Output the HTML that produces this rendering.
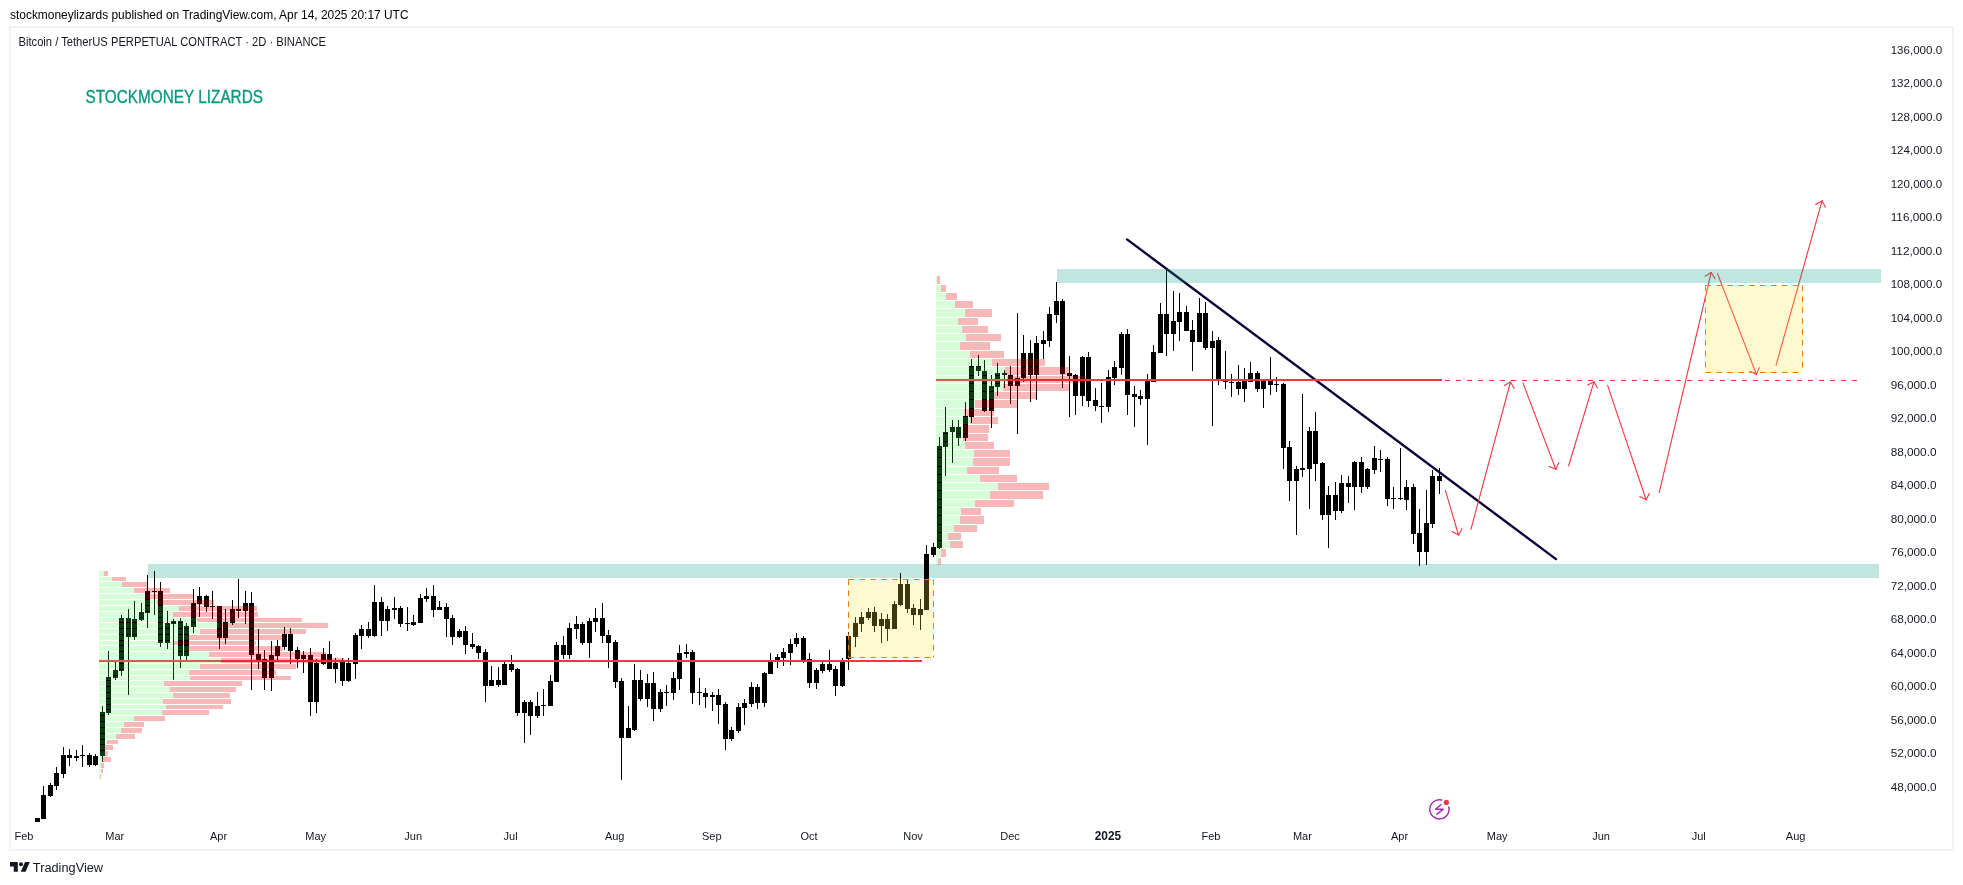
<!DOCTYPE html><html><head><meta charset="utf-8"><style>
html,body{margin:0;padding:0;background:#fff;width:1963px;height:885px;overflow:hidden}
svg{display:block;font-family:"Liberation Sans",sans-serif;will-change:transform}
</style></head><body>
<svg width="1963" height="885" viewBox="0 0 1963 885">
<rect width="1963" height="885" fill="#ffffff"/>
<text x="10" y="19" font-size="13" fill="#000" textLength="398.5" lengthAdjust="spacingAndGlyphs">stockmoneylizards published on TradingView.com, Apr 14, 2025 20:17 UTC</text>
<g fill="#f3f3f3" shape-rendering="crispEdges"><rect x="9" y="26" width="1945" height="2"/><rect x="9" y="849" width="1945" height="2"/><rect x="9" y="26" width="2" height="825"/><rect x="1952" y="26" width="2" height="825"/></g>
<text x="18.5" y="46" font-size="12" fill="#131722" textLength="307.5" lengthAdjust="spacingAndGlyphs">Bitcoin / TetherUS PERPETUAL CONTRACT · 2D · BINANCE</text>
<text x="85.5" y="103" font-size="18" fill="#089981" stroke="#089981" stroke-width="0.35" textLength="177.5" lengthAdjust="spacingAndGlyphs">STOCKMONEY LIZARDS</text>
<text x="1890.7" y="53.7" font-size="11" fill="#131722" textLength="51.4" lengthAdjust="spacingAndGlyphs">136,000.0</text>
<text x="1890.7" y="87.2" font-size="11" fill="#131722" textLength="51.4" lengthAdjust="spacingAndGlyphs">132,000.0</text>
<text x="1890.7" y="120.7" font-size="11" fill="#131722" textLength="51.4" lengthAdjust="spacingAndGlyphs">128,000.0</text>
<text x="1890.7" y="154.2" font-size="11" fill="#131722" textLength="51.4" lengthAdjust="spacingAndGlyphs">124,000.0</text>
<text x="1890.7" y="187.7" font-size="11" fill="#131722" textLength="51.4" lengthAdjust="spacingAndGlyphs">120,000.0</text>
<text x="1890.7" y="221.2" font-size="11" fill="#131722" textLength="51.4" lengthAdjust="spacingAndGlyphs">116,000.0</text>
<text x="1890.7" y="254.7" font-size="11" fill="#131722" textLength="51.4" lengthAdjust="spacingAndGlyphs">112,000.0</text>
<text x="1890.7" y="288.2" font-size="11" fill="#131722" textLength="51.4" lengthAdjust="spacingAndGlyphs">108,000.0</text>
<text x="1890.7" y="321.7" font-size="11" fill="#131722" textLength="51.4" lengthAdjust="spacingAndGlyphs">104,000.0</text>
<text x="1890.7" y="355.2" font-size="11" fill="#131722" textLength="51.4" lengthAdjust="spacingAndGlyphs">100,000.0</text>
<text x="1890.7" y="388.7" font-size="11" fill="#131722" textLength="45.8" lengthAdjust="spacingAndGlyphs">96,000.0</text>
<text x="1890.7" y="422.1" font-size="11" fill="#131722" textLength="45.8" lengthAdjust="spacingAndGlyphs">92,000.0</text>
<text x="1890.7" y="455.6" font-size="11" fill="#131722" textLength="45.8" lengthAdjust="spacingAndGlyphs">88,000.0</text>
<text x="1890.7" y="489.1" font-size="11" fill="#131722" textLength="45.8" lengthAdjust="spacingAndGlyphs">84,000.0</text>
<text x="1890.7" y="522.6" font-size="11" fill="#131722" textLength="45.8" lengthAdjust="spacingAndGlyphs">80,000.0</text>
<text x="1890.7" y="556.1" font-size="11" fill="#131722" textLength="45.8" lengthAdjust="spacingAndGlyphs">76,000.0</text>
<text x="1890.7" y="589.6" font-size="11" fill="#131722" textLength="45.8" lengthAdjust="spacingAndGlyphs">72,000.0</text>
<text x="1890.7" y="623.1" font-size="11" fill="#131722" textLength="45.8" lengthAdjust="spacingAndGlyphs">68,000.0</text>
<text x="1890.7" y="656.6" font-size="11" fill="#131722" textLength="45.8" lengthAdjust="spacingAndGlyphs">64,000.0</text>
<text x="1890.7" y="690.1" font-size="11" fill="#131722" textLength="45.8" lengthAdjust="spacingAndGlyphs">60,000.0</text>
<text x="1890.7" y="723.6" font-size="11" fill="#131722" textLength="45.8" lengthAdjust="spacingAndGlyphs">56,000.0</text>
<text x="1890.7" y="757.1" font-size="11" fill="#131722" textLength="45.8" lengthAdjust="spacingAndGlyphs">52,000.0</text>
<text x="1890.7" y="790.6" font-size="11" fill="#131722" textLength="45.8" lengthAdjust="spacingAndGlyphs">48,000.0</text>
<text x="23.9" y="840" font-size="11" fill="#131722" text-anchor="middle">Feb</text>
<text x="114.7" y="840" font-size="11" fill="#131722" text-anchor="middle">Mar</text>
<text x="218.6" y="840" font-size="11" fill="#131722" text-anchor="middle">Apr</text>
<text x="315.7" y="840" font-size="11" fill="#131722" text-anchor="middle">May</text>
<text x="413.2" y="840" font-size="11" fill="#131722" text-anchor="middle">Jun</text>
<text x="510.6" y="840" font-size="11" fill="#131722" text-anchor="middle">Jul</text>
<text x="614.7" y="840" font-size="11" fill="#131722" text-anchor="middle">Aug</text>
<text x="711.8" y="840" font-size="11" fill="#131722" text-anchor="middle">Sep</text>
<text x="809.0" y="840" font-size="11" fill="#131722" text-anchor="middle">Oct</text>
<text x="913.0" y="840" font-size="11" fill="#131722" text-anchor="middle">Nov</text>
<text x="1010.0" y="840" font-size="11" fill="#131722" text-anchor="middle">Dec</text>
<text x="1094.8" y="840" font-size="12" font-weight="bold" fill="#131722" textLength="26.3" lengthAdjust="spacingAndGlyphs">2025</text>
<text x="1211.0" y="840" font-size="11" fill="#131722" text-anchor="middle">Feb</text>
<text x="1302.4" y="840" font-size="11" fill="#131722" text-anchor="middle">Mar</text>
<text x="1399.5" y="840" font-size="11" fill="#131722" text-anchor="middle">Apr</text>
<text x="1497.2" y="840" font-size="11" fill="#131722" text-anchor="middle">May</text>
<text x="1601.0" y="840" font-size="11" fill="#131722" text-anchor="middle">Jun</text>
<text x="1698.7" y="840" font-size="11" fill="#131722" text-anchor="middle">Jul</text>
<text x="1795.6" y="840" font-size="11" fill="#131722" text-anchor="middle">Aug</text>
<g fill="#131722">
<path d="M10 862 H17.8 V871.8 H13.8 V866.4 H10 Z"/>
<circle cx="21" cy="864.2" r="2"/>
<path d="M25 862 H29.8 L25.6 871.8 H20.8 Z"/>
</g>
<text x="32.8" y="872" font-size="12.5" fill="#131722" textLength="70.3" lengthAdjust="spacingAndGlyphs">TradingView</text>
<defs><clipPath id="cp"><rect x="11" y="28" width="1940" height="794"/></clipPath></defs>
<g clip-path="url(#cp)">
<rect x="148" y="564" width="1731" height="14" fill="#c1e5df"/>
<g fill="#000" shape-rendering="crispEdges">
<rect x="35" y="818" width="5" height="4"/>
<rect x="37" y="818" width="1" height="4"/>
<rect x="41" y="795" width="5" height="24"/>
<rect x="43" y="786" width="1" height="33"/>
<rect x="48" y="785" width="5" height="11"/>
<rect x="50" y="783" width="1" height="14"/>
<rect x="54" y="773" width="5" height="13"/>
<rect x="56" y="767" width="1" height="23"/>
<rect x="61" y="755" width="5" height="19"/>
<rect x="63" y="747" width="1" height="31"/>
<rect x="67" y="755" width="5" height="3"/>
<rect x="69" y="749" width="1" height="17"/>
<rect x="74" y="756" width="5" height="2"/>
<rect x="76" y="750" width="1" height="11"/>
<rect x="80" y="755" width="5" height="1"/>
<rect x="82" y="745" width="1" height="22"/>
<rect x="87" y="755" width="5" height="10"/>
<rect x="89" y="753" width="1" height="14"/>
<rect x="93" y="756" width="5" height="9"/>
<rect x="95" y="754" width="1" height="12"/>
<rect x="100" y="712" width="5" height="44"/>
<rect x="102" y="706" width="1" height="56"/>
<rect x="106" y="677" width="5" height="36"/>
<rect x="108" y="651" width="1" height="64"/>
<rect x="113" y="670" width="5" height="8"/>
<rect x="115" y="662" width="1" height="18"/>
<rect x="119" y="618" width="5" height="53"/>
<rect x="121" y="615" width="1" height="61"/>
<rect x="126" y="618" width="5" height="19"/>
<rect x="128" y="609" width="1" height="86"/>
<rect x="132" y="619" width="5" height="18"/>
<rect x="134" y="601" width="1" height="39"/>
<rect x="139" y="612" width="5" height="8"/>
<rect x="141" y="603" width="1" height="18"/>
<rect x="145" y="591" width="5" height="22"/>
<rect x="147" y="575" width="1" height="53"/>
<rect x="152" y="591" width="5" height="1"/>
<rect x="154" y="571" width="1" height="44"/>
<rect x="158" y="591" width="5" height="52"/>
<rect x="160" y="582" width="1" height="65"/>
<rect x="165" y="623" width="5" height="20"/>
<rect x="167" y="611" width="1" height="38"/>
<rect x="171" y="621" width="5" height="3"/>
<rect x="173" y="619" width="1" height="61"/>
<rect x="178" y="621" width="5" height="35"/>
<rect x="180" y="618" width="1" height="50"/>
<rect x="184" y="626" width="5" height="30"/>
<rect x="186" y="623" width="1" height="37"/>
<rect x="191" y="603" width="5" height="24"/>
<rect x="193" y="589" width="1" height="44"/>
<rect x="197" y="596" width="5" height="8"/>
<rect x="199" y="587" width="1" height="30"/>
<rect x="204" y="596" width="5" height="11"/>
<rect x="206" y="595" width="1" height="17"/>
<rect x="210" y="606" width="5" height="1"/>
<rect x="212" y="591" width="1" height="28"/>
<rect x="217" y="606" width="5" height="32"/>
<rect x="219" y="606" width="1" height="43"/>
<rect x="223" y="622" width="5" height="16"/>
<rect x="225" y="609" width="1" height="35"/>
<rect x="230" y="609" width="5" height="14"/>
<rect x="232" y="600" width="1" height="25"/>
<rect x="236" y="609" width="5" height="2"/>
<rect x="238" y="579" width="1" height="39"/>
<rect x="243" y="603" width="5" height="8"/>
<rect x="245" y="591" width="1" height="33"/>
<rect x="249" y="603" width="5" height="52"/>
<rect x="251" y="592" width="1" height="98"/>
<rect x="256" y="654" width="5" height="6"/>
<rect x="258" y="629" width="1" height="40"/>
<rect x="262" y="659" width="5" height="19"/>
<rect x="264" y="650" width="1" height="40"/>
<rect x="269" y="655" width="5" height="23"/>
<rect x="271" y="641" width="1" height="50"/>
<rect x="275" y="646" width="5" height="10"/>
<rect x="277" y="640" width="1" height="20"/>
<rect x="282" y="634" width="5" height="13"/>
<rect x="284" y="627" width="1" height="23"/>
<rect x="288" y="634" width="5" height="17"/>
<rect x="290" y="628" width="1" height="36"/>
<rect x="295" y="650" width="5" height="9"/>
<rect x="297" y="647" width="1" height="21"/>
<rect x="301" y="655" width="5" height="4"/>
<rect x="303" y="651" width="1" height="22"/>
<rect x="308" y="655" width="5" height="47"/>
<rect x="310" y="648" width="1" height="68"/>
<rect x="314" y="663" width="5" height="39"/>
<rect x="316" y="659" width="1" height="54"/>
<rect x="321" y="654" width="5" height="10"/>
<rect x="323" y="648" width="1" height="17"/>
<rect x="327" y="654" width="5" height="15"/>
<rect x="329" y="641" width="1" height="28"/>
<rect x="333" y="663" width="5" height="6"/>
<rect x="335" y="658" width="1" height="25"/>
<rect x="340" y="661" width="5" height="20"/>
<rect x="342" y="658" width="1" height="28"/>
<rect x="346" y="663" width="5" height="18"/>
<rect x="348" y="658" width="1" height="24"/>
<rect x="353" y="635" width="5" height="29"/>
<rect x="355" y="633" width="1" height="46"/>
<rect x="359" y="629" width="5" height="7"/>
<rect x="361" y="625" width="1" height="24"/>
<rect x="366" y="629" width="5" height="7"/>
<rect x="368" y="622" width="1" height="16"/>
<rect x="372" y="602" width="5" height="34"/>
<rect x="374" y="585" width="1" height="52"/>
<rect x="379" y="602" width="5" height="19"/>
<rect x="381" y="597" width="1" height="39"/>
<rect x="385" y="609" width="5" height="12"/>
<rect x="387" y="606" width="1" height="25"/>
<rect x="392" y="608" width="5" height="2"/>
<rect x="394" y="597" width="1" height="22"/>
<rect x="398" y="608" width="5" height="16"/>
<rect x="400" y="606" width="1" height="21"/>
<rect x="405" y="623" width="5" height="1"/>
<rect x="407" y="607" width="1" height="24"/>
<rect x="411" y="622" width="5" height="3"/>
<rect x="413" y="615" width="1" height="11"/>
<rect x="418" y="598" width="5" height="25"/>
<rect x="420" y="594" width="1" height="29"/>
<rect x="424" y="596" width="5" height="3"/>
<rect x="426" y="588" width="1" height="14"/>
<rect x="431" y="596" width="5" height="14"/>
<rect x="433" y="585" width="1" height="32"/>
<rect x="437" y="607" width="5" height="3"/>
<rect x="439" y="601" width="1" height="9"/>
<rect x="444" y="607" width="5" height="12"/>
<rect x="446" y="603" width="1" height="34"/>
<rect x="450" y="618" width="5" height="19"/>
<rect x="452" y="615" width="1" height="30"/>
<rect x="457" y="631" width="5" height="6"/>
<rect x="459" y="629" width="1" height="9"/>
<rect x="463" y="631" width="5" height="14"/>
<rect x="465" y="626" width="1" height="28"/>
<rect x="470" y="644" width="5" height="3"/>
<rect x="472" y="633" width="1" height="16"/>
<rect x="476" y="646" width="5" height="7"/>
<rect x="478" y="645" width="1" height="14"/>
<rect x="483" y="652" width="5" height="34"/>
<rect x="485" y="649" width="1" height="53"/>
<rect x="489" y="680" width="5" height="6"/>
<rect x="491" y="666" width="1" height="20"/>
<rect x="496" y="680" width="5" height="5"/>
<rect x="498" y="667" width="1" height="20"/>
<rect x="502" y="664" width="5" height="21"/>
<rect x="504" y="662" width="1" height="23"/>
<rect x="509" y="664" width="5" height="6"/>
<rect x="511" y="655" width="1" height="17"/>
<rect x="515" y="669" width="5" height="44"/>
<rect x="517" y="668" width="1" height="48"/>
<rect x="522" y="702" width="5" height="11"/>
<rect x="524" y="700" width="1" height="43"/>
<rect x="528" y="702" width="5" height="14"/>
<rect x="530" y="700" width="1" height="35"/>
<rect x="535" y="706" width="5" height="10"/>
<rect x="537" y="692" width="1" height="26"/>
<rect x="541" y="705" width="5" height="1"/>
<rect x="543" y="689" width="1" height="27"/>
<rect x="548" y="681" width="5" height="25"/>
<rect x="550" y="675" width="1" height="31"/>
<rect x="554" y="645" width="5" height="37"/>
<rect x="556" y="642" width="1" height="40"/>
<rect x="561" y="645" width="5" height="10"/>
<rect x="563" y="636" width="1" height="23"/>
<rect x="567" y="628" width="5" height="27"/>
<rect x="569" y="623" width="1" height="36"/>
<rect x="574" y="624" width="5" height="5"/>
<rect x="576" y="616" width="1" height="23"/>
<rect x="580" y="624" width="5" height="19"/>
<rect x="582" y="622" width="1" height="23"/>
<rect x="587" y="621" width="5" height="22"/>
<rect x="589" y="618" width="1" height="40"/>
<rect x="593" y="618" width="5" height="4"/>
<rect x="595" y="608" width="1" height="24"/>
<rect x="600" y="618" width="5" height="18"/>
<rect x="602" y="603" width="1" height="40"/>
<rect x="606" y="635" width="5" height="8"/>
<rect x="608" y="630" width="1" height="38"/>
<rect x="613" y="642" width="5" height="40"/>
<rect x="615" y="640" width="1" height="48"/>
<rect x="619" y="681" width="5" height="57"/>
<rect x="621" y="678" width="1" height="102"/>
<rect x="626" y="728" width="5" height="10"/>
<rect x="628" y="706" width="1" height="32"/>
<rect x="632" y="680" width="5" height="50"/>
<rect x="634" y="664" width="1" height="67"/>
<rect x="638" y="680" width="5" height="19"/>
<rect x="640" y="670" width="1" height="31"/>
<rect x="645" y="683" width="5" height="16"/>
<rect x="647" y="674" width="1" height="33"/>
<rect x="651" y="683" width="5" height="26"/>
<rect x="653" y="672" width="1" height="49"/>
<rect x="658" y="692" width="5" height="17"/>
<rect x="660" y="689" width="1" height="23"/>
<rect x="664" y="692" width="5" height="1"/>
<rect x="666" y="685" width="1" height="21"/>
<rect x="671" y="678" width="5" height="15"/>
<rect x="673" y="672" width="1" height="28"/>
<rect x="677" y="653" width="5" height="26"/>
<rect x="679" y="645" width="1" height="45"/>
<rect x="684" y="652" width="5" height="2"/>
<rect x="686" y="644" width="1" height="14"/>
<rect x="690" y="652" width="5" height="41"/>
<rect x="692" y="650" width="1" height="54"/>
<rect x="697" y="692" width="5" height="1"/>
<rect x="699" y="678" width="1" height="27"/>
<rect x="703" y="693" width="5" height="4"/>
<rect x="705" y="688" width="1" height="20"/>
<rect x="710" y="695" width="5" height="2"/>
<rect x="712" y="692" width="1" height="19"/>
<rect x="716" y="695" width="5" height="10"/>
<rect x="718" y="689" width="1" height="35"/>
<rect x="723" y="704" width="5" height="35"/>
<rect x="725" y="702" width="1" height="48"/>
<rect x="729" y="730" width="5" height="9"/>
<rect x="731" y="727" width="1" height="14"/>
<rect x="736" y="707" width="5" height="24"/>
<rect x="738" y="703" width="1" height="30"/>
<rect x="742" y="703" width="5" height="5"/>
<rect x="744" y="699" width="1" height="26"/>
<rect x="749" y="687" width="5" height="17"/>
<rect x="751" y="682" width="1" height="25"/>
<rect x="755" y="687" width="5" height="16"/>
<rect x="757" y="684" width="1" height="25"/>
<rect x="762" y="673" width="5" height="30"/>
<rect x="764" y="672" width="1" height="35"/>
<rect x="768" y="662" width="5" height="12"/>
<rect x="770" y="653" width="1" height="21"/>
<rect x="775" y="657" width="5" height="3"/>
<rect x="777" y="654" width="1" height="14"/>
<rect x="781" y="652" width="5" height="6"/>
<rect x="783" y="648" width="1" height="18"/>
<rect x="788" y="644" width="5" height="9"/>
<rect x="790" y="639" width="1" height="26"/>
<rect x="794" y="638" width="5" height="6"/>
<rect x="796" y="633" width="1" height="14"/>
<rect x="801" y="638" width="5" height="23"/>
<rect x="803" y="636" width="1" height="27"/>
<rect x="807" y="659" width="5" height="24"/>
<rect x="809" y="653" width="1" height="35"/>
<rect x="814" y="670" width="5" height="13"/>
<rect x="816" y="668" width="1" height="21"/>
<rect x="820" y="664" width="5" height="7"/>
<rect x="822" y="662" width="1" height="11"/>
<rect x="827" y="664" width="5" height="6"/>
<rect x="829" y="650" width="1" height="22"/>
<rect x="833" y="669" width="5" height="17"/>
<rect x="835" y="666" width="1" height="30"/>
<rect x="840" y="662" width="5" height="24"/>
<rect x="842" y="658" width="1" height="29"/>
<rect x="846" y="636" width="5" height="23"/>
<rect x="848" y="632" width="1" height="38"/>
<rect x="853" y="623" width="5" height="14"/>
<rect x="855" y="617" width="1" height="30"/>
<rect x="859" y="617" width="5" height="7"/>
<rect x="861" y="612" width="1" height="20"/>
<rect x="866" y="612" width="5" height="6"/>
<rect x="868" y="608" width="1" height="12"/>
<rect x="872" y="612" width="5" height="14"/>
<rect x="874" y="607" width="1" height="25"/>
<rect x="879" y="619" width="5" height="7"/>
<rect x="881" y="613" width="1" height="30"/>
<rect x="885" y="619" width="5" height="10"/>
<rect x="887" y="614" width="1" height="27"/>
<rect x="892" y="604" width="5" height="25"/>
<rect x="894" y="601" width="1" height="28"/>
<rect x="898" y="584" width="5" height="21"/>
<rect x="900" y="573" width="1" height="33"/>
<rect x="905" y="584" width="5" height="25"/>
<rect x="907" y="580" width="1" height="33"/>
<rect x="911" y="608" width="5" height="7"/>
<rect x="913" y="604" width="1" height="21"/>
<rect x="918" y="609" width="5" height="6"/>
<rect x="920" y="599" width="1" height="31"/>
<rect x="924" y="554" width="5" height="56"/>
<rect x="926" y="545" width="1" height="65"/>
<rect x="931" y="547" width="5" height="8"/>
<rect x="933" y="543" width="1" height="14"/>
<rect x="937" y="446" width="5" height="102"/>
<rect x="939" y="437" width="1" height="112"/>
<rect x="943" y="432" width="5" height="15"/>
<rect x="945" y="407" width="1" height="69"/>
<rect x="950" y="427" width="5" height="5"/>
<rect x="952" y="420" width="1" height="43"/>
<rect x="956" y="427" width="5" height="11"/>
<rect x="958" y="420" width="1" height="26"/>
<rect x="963" y="416" width="5" height="22"/>
<rect x="965" y="402" width="1" height="39"/>
<rect x="969" y="366" width="5" height="51"/>
<rect x="971" y="359" width="1" height="64"/>
<rect x="976" y="366" width="5" height="5"/>
<rect x="978" y="355" width="1" height="21"/>
<rect x="982" y="371" width="5" height="40"/>
<rect x="984" y="360" width="1" height="52"/>
<rect x="989" y="386" width="5" height="25"/>
<rect x="991" y="375" width="1" height="53"/>
<rect x="995" y="373" width="5" height="14"/>
<rect x="997" y="363" width="1" height="33"/>
<rect x="1002" y="373" width="5" height="2"/>
<rect x="1004" y="370" width="1" height="18"/>
<rect x="1008" y="375" width="5" height="11"/>
<rect x="1010" y="366" width="1" height="38"/>
<rect x="1015" y="378" width="5" height="8"/>
<rect x="1017" y="313" width="1" height="121"/>
<rect x="1021" y="353" width="5" height="25"/>
<rect x="1023" y="335" width="1" height="47"/>
<rect x="1028" y="353" width="5" height="22"/>
<rect x="1030" y="340" width="1" height="62"/>
<rect x="1034" y="343" width="5" height="32"/>
<rect x="1036" y="336" width="1" height="64"/>
<rect x="1041" y="340" width="5" height="4"/>
<rect x="1043" y="331" width="1" height="28"/>
<rect x="1047" y="314" width="5" height="27"/>
<rect x="1049" y="307" width="1" height="40"/>
<rect x="1054" y="301" width="5" height="14"/>
<rect x="1056" y="282" width="1" height="41"/>
<rect x="1060" y="301" width="5" height="73"/>
<rect x="1062" y="299" width="1" height="89"/>
<rect x="1067" y="373" width="5" height="3"/>
<rect x="1069" y="356" width="1" height="61"/>
<rect x="1073" y="375" width="5" height="21"/>
<rect x="1075" y="374" width="1" height="41"/>
<rect x="1080" y="357" width="5" height="39"/>
<rect x="1082" y="356" width="1" height="50"/>
<rect x="1086" y="357" width="5" height="44"/>
<rect x="1088" y="352" width="1" height="55"/>
<rect x="1093" y="400" width="5" height="6"/>
<rect x="1095" y="388" width="1" height="23"/>
<rect x="1099" y="406" width="5" height="1"/>
<rect x="1101" y="383" width="1" height="40"/>
<rect x="1106" y="377" width="5" height="30"/>
<rect x="1108" y="370" width="1" height="42"/>
<rect x="1112" y="367" width="5" height="11"/>
<rect x="1114" y="361" width="1" height="24"/>
<rect x="1119" y="334" width="5" height="34"/>
<rect x="1121" y="332" width="1" height="43"/>
<rect x="1125" y="334" width="5" height="61"/>
<rect x="1127" y="329" width="1" height="86"/>
<rect x="1132" y="394" width="5" height="3"/>
<rect x="1134" y="386" width="1" height="41"/>
<rect x="1138" y="396" width="5" height="3"/>
<rect x="1140" y="390" width="1" height="15"/>
<rect x="1145" y="380" width="5" height="19"/>
<rect x="1147" y="374" width="1" height="71"/>
<rect x="1151" y="352" width="5" height="30"/>
<rect x="1153" y="345" width="1" height="37"/>
<rect x="1158" y="314" width="5" height="39"/>
<rect x="1160" y="303" width="1" height="50"/>
<rect x="1164" y="314" width="5" height="20"/>
<rect x="1166" y="269" width="1" height="87"/>
<rect x="1171" y="321" width="5" height="13"/>
<rect x="1173" y="291" width="1" height="60"/>
<rect x="1177" y="312" width="5" height="10"/>
<rect x="1179" y="293" width="1" height="48"/>
<rect x="1184" y="312" width="5" height="19"/>
<rect x="1186" y="306" width="1" height="25"/>
<rect x="1190" y="330" width="5" height="12"/>
<rect x="1192" y="320" width="1" height="51"/>
<rect x="1197" y="313" width="5" height="29"/>
<rect x="1199" y="298" width="1" height="44"/>
<rect x="1203" y="313" width="5" height="35"/>
<rect x="1205" y="302" width="1" height="48"/>
<rect x="1210" y="341" width="5" height="7"/>
<rect x="1212" y="331" width="1" height="95"/>
<rect x="1216" y="340" width="5" height="41"/>
<rect x="1218" y="337" width="1" height="48"/>
<rect x="1223" y="381" width="5" height="1"/>
<rect x="1225" y="351" width="1" height="38"/>
<rect x="1229" y="382" width="5" height="1"/>
<rect x="1231" y="374" width="1" height="23"/>
<rect x="1236" y="382" width="5" height="7"/>
<rect x="1238" y="365" width="1" height="30"/>
<rect x="1242" y="381" width="5" height="8"/>
<rect x="1244" y="368" width="1" height="34"/>
<rect x="1248" y="373" width="5" height="9"/>
<rect x="1250" y="362" width="1" height="20"/>
<rect x="1255" y="373" width="5" height="16"/>
<rect x="1257" y="371" width="1" height="21"/>
<rect x="1261" y="381" width="5" height="8"/>
<rect x="1263" y="379" width="1" height="29"/>
<rect x="1268" y="381" width="5" height="4"/>
<rect x="1270" y="357" width="1" height="38"/>
<rect x="1274" y="384" width="5" height="1"/>
<rect x="1276" y="377" width="1" height="15"/>
<rect x="1281" y="384" width="5" height="64"/>
<rect x="1283" y="383" width="1" height="86"/>
<rect x="1287" y="447" width="5" height="34"/>
<rect x="1289" y="441" width="1" height="60"/>
<rect x="1294" y="469" width="5" height="12"/>
<rect x="1296" y="466" width="1" height="69"/>
<rect x="1300" y="468" width="5" height="2"/>
<rect x="1302" y="394" width="1" height="83"/>
<rect x="1307" y="431" width="5" height="38"/>
<rect x="1309" y="427" width="1" height="82"/>
<rect x="1313" y="431" width="5" height="33"/>
<rect x="1315" y="412" width="1" height="69"/>
<rect x="1320" y="463" width="5" height="52"/>
<rect x="1322" y="462" width="1" height="58"/>
<rect x="1326" y="495" width="5" height="20"/>
<rect x="1328" y="486" width="1" height="62"/>
<rect x="1333" y="495" width="5" height="16"/>
<rect x="1335" y="482" width="1" height="38"/>
<rect x="1339" y="483" width="5" height="28"/>
<rect x="1341" y="475" width="1" height="38"/>
<rect x="1346" y="483" width="5" height="4"/>
<rect x="1348" y="476" width="1" height="27"/>
<rect x="1352" y="462" width="5" height="25"/>
<rect x="1354" y="461" width="1" height="49"/>
<rect x="1359" y="462" width="5" height="25"/>
<rect x="1361" y="457" width="1" height="36"/>
<rect x="1365" y="469" width="5" height="18"/>
<rect x="1367" y="468" width="1" height="21"/>
<rect x="1372" y="458" width="5" height="12"/>
<rect x="1374" y="446" width="1" height="28"/>
<rect x="1378" y="459" width="5" height="1"/>
<rect x="1380" y="450" width="1" height="22"/>
<rect x="1385" y="459" width="5" height="40"/>
<rect x="1387" y="457" width="1" height="49"/>
<rect x="1391" y="498" width="5" height="1"/>
<rect x="1393" y="487" width="1" height="22"/>
<rect x="1398" y="498" width="5" height="1"/>
<rect x="1400" y="448" width="1" height="52"/>
<rect x="1404" y="487" width="5" height="13"/>
<rect x="1406" y="480" width="1" height="30"/>
<rect x="1411" y="487" width="5" height="47"/>
<rect x="1413" y="484" width="1" height="60"/>
<rect x="1417" y="533" width="5" height="19"/>
<rect x="1419" y="509" width="1" height="57"/>
<rect x="1424" y="523" width="5" height="29"/>
<rect x="1426" y="490" width="1" height="75"/>
<rect x="1430" y="476" width="5" height="48"/>
<rect x="1432" y="470" width="1" height="58"/>
<rect x="1437" y="476" width="5" height="5"/>
<rect x="1439" y="468" width="1" height="26"/>
</g>
<line x1="1127" y1="239.4" x2="1556" y2="559.1" stroke="#0d0238" stroke-width="2.4" stroke-linecap="round"/>
<rect x="99" y="660" width="823" height="2" fill="#f23645"/>
<rect x="936" y="379" width="506" height="2" fill="#f23645"/>
<g shape-rendering="crispEdges">
<rect x="99" y="571" width="5" height="5" fill="rgba(68,255,82,0.22)"/>
<rect x="104" y="571" width="4" height="5" fill="rgba(229,0,0,0.28)"/>
<rect x="99" y="577" width="13" height="4" fill="rgba(68,255,82,0.22)"/>
<rect x="112" y="577" width="14" height="4" fill="rgba(229,0,0,0.28)"/>
<rect x="99" y="582" width="23" height="5" fill="rgba(68,255,82,0.22)"/>
<rect x="122" y="582" width="25" height="5" fill="rgba(229,0,0,0.28)"/>
<rect x="99" y="588" width="35" height="5" fill="rgba(68,255,82,0.22)"/>
<rect x="134" y="588" width="36" height="5" fill="rgba(229,0,0,0.28)"/>
<rect x="99" y="594" width="46" height="5" fill="rgba(68,255,82,0.22)"/>
<rect x="145" y="594" width="49" height="5" fill="rgba(229,0,0,0.28)"/>
<rect x="99" y="600" width="58" height="5" fill="rgba(68,255,82,0.22)"/>
<rect x="157" y="600" width="57" height="5" fill="rgba(229,0,0,0.28)"/>
<rect x="99" y="606" width="80" height="5" fill="rgba(68,255,82,0.22)"/>
<rect x="179" y="606" width="78" height="5" fill="rgba(229,0,0,0.28)"/>
<rect x="99" y="612" width="74" height="5" fill="rgba(68,255,82,0.22)"/>
<rect x="173" y="612" width="85" height="5" fill="rgba(229,0,0,0.28)"/>
<rect x="99" y="618" width="98" height="4" fill="rgba(68,255,82,0.22)"/>
<rect x="197" y="618" width="105" height="4" fill="rgba(229,0,0,0.28)"/>
<rect x="99" y="623" width="121" height="5" fill="rgba(68,255,82,0.22)"/>
<rect x="220" y="623" width="108" height="5" fill="rgba(229,0,0,0.28)"/>
<rect x="99" y="629" width="101" height="5" fill="rgba(68,255,82,0.22)"/>
<rect x="200" y="629" width="106" height="5" fill="rgba(229,0,0,0.28)"/>
<rect x="99" y="635" width="90" height="5" fill="rgba(68,255,82,0.22)"/>
<rect x="189" y="635" width="95" height="5" fill="rgba(229,0,0,0.28)"/>
<rect x="99" y="641" width="75" height="4" fill="rgba(68,255,82,0.22)"/>
<rect x="174" y="641" width="82" height="4" fill="rgba(229,0,0,0.28)"/>
<rect x="99" y="646" width="90" height="5" fill="rgba(68,255,82,0.22)"/>
<rect x="189" y="646" width="94" height="5" fill="rgba(229,0,0,0.28)"/>
<rect x="99" y="652" width="110" height="5" fill="rgba(68,255,82,0.22)"/>
<rect x="209" y="652" width="117" height="5" fill="rgba(229,0,0,0.28)"/>
<rect x="99" y="658" width="122" height="5" fill="rgba(68,255,82,0.22)"/>
<rect x="221" y="658" width="123" height="5" fill="rgba(229,0,0,0.28)"/>
<rect x="99" y="664" width="101" height="5" fill="rgba(68,255,82,0.22)"/>
<rect x="200" y="664" width="96" height="5" fill="rgba(229,0,0,0.28)"/>
<rect x="99" y="670" width="90" height="5" fill="rgba(68,255,82,0.22)"/>
<rect x="189" y="670" width="87" height="5" fill="rgba(229,0,0,0.28)"/>
<rect x="99" y="676" width="91" height="4" fill="rgba(68,255,82,0.22)"/>
<rect x="190" y="676" width="101" height="4" fill="rgba(229,0,0,0.28)"/>
<rect x="99" y="681" width="65" height="5" fill="rgba(68,255,82,0.22)"/>
<rect x="164" y="681" width="78" height="5" fill="rgba(229,0,0,0.28)"/>
<rect x="99" y="687" width="71" height="5" fill="rgba(68,255,82,0.22)"/>
<rect x="170" y="687" width="66" height="5" fill="rgba(229,0,0,0.28)"/>
<rect x="99" y="693" width="74" height="5" fill="rgba(68,255,82,0.22)"/>
<rect x="173" y="693" width="57" height="5" fill="rgba(229,0,0,0.28)"/>
<rect x="99" y="699" width="64" height="5" fill="rgba(68,255,82,0.22)"/>
<rect x="163" y="699" width="68" height="5" fill="rgba(229,0,0,0.28)"/>
<rect x="99" y="705" width="67" height="4" fill="rgba(68,255,82,0.22)"/>
<rect x="166" y="705" width="57" height="4" fill="rgba(229,0,0,0.28)"/>
<rect x="99" y="710" width="63" height="5" fill="rgba(68,255,82,0.22)"/>
<rect x="162" y="710" width="47" height="5" fill="rgba(229,0,0,0.28)"/>
<rect x="99" y="716" width="35" height="5" fill="rgba(68,255,82,0.22)"/>
<rect x="134" y="716" width="31" height="5" fill="rgba(229,0,0,0.28)"/>
<rect x="99" y="722" width="25" height="5" fill="rgba(68,255,82,0.22)"/>
<rect x="124" y="722" width="20" height="5" fill="rgba(229,0,0,0.28)"/>
<rect x="99" y="728" width="22" height="5" fill="rgba(68,255,82,0.22)"/>
<rect x="121" y="728" width="21" height="5" fill="rgba(229,0,0,0.28)"/>
<rect x="99" y="734" width="17" height="5" fill="rgba(68,255,82,0.22)"/>
<rect x="116" y="734" width="19" height="5" fill="rgba(229,0,0,0.28)"/>
<rect x="99" y="740" width="8" height="4" fill="rgba(68,255,82,0.22)"/>
<rect x="107" y="740" width="11" height="4" fill="rgba(229,0,0,0.28)"/>
<rect x="99" y="745" width="6" height="5" fill="rgba(68,255,82,0.22)"/>
<rect x="105" y="745" width="8" height="5" fill="rgba(229,0,0,0.28)"/>
<rect x="99" y="751" width="6" height="5" fill="rgba(68,255,82,0.22)"/>
<rect x="105" y="751" width="3" height="5" fill="rgba(229,0,0,0.28)"/>
<rect x="99" y="757" width="4" height="5" fill="rgba(68,255,82,0.22)"/>
<rect x="103" y="757" width="8" height="5" fill="rgba(229,0,0,0.28)"/>
<rect x="99" y="763" width="2" height="5" fill="rgba(68,255,82,0.22)"/>
<rect x="101" y="763" width="3" height="5" fill="rgba(229,0,0,0.28)"/>
<rect x="99" y="769" width="2" height="4" fill="rgba(68,255,82,0.22)"/>
<rect x="101" y="769" width="2" height="4" fill="rgba(229,0,0,0.28)"/>
<rect x="99" y="774" width="1" height="5" fill="rgba(68,255,82,0.22)"/>
<rect x="100" y="774" width="1" height="5" fill="rgba(229,0,0,0.28)"/>
<rect x="936" y="276" width="1" height="8" fill="rgba(68,255,82,0.22)"/>
<rect x="937" y="276" width="3" height="8" fill="rgba(229,0,0,0.28)"/>
<rect x="936" y="285" width="5" height="7" fill="rgba(68,255,82,0.22)"/>
<rect x="941" y="285" width="5" height="7" fill="rgba(229,0,0,0.28)"/>
<rect x="936" y="293" width="10" height="7" fill="rgba(68,255,82,0.22)"/>
<rect x="946" y="293" width="11" height="7" fill="rgba(229,0,0,0.28)"/>
<rect x="936" y="301" width="19" height="7" fill="rgba(68,255,82,0.22)"/>
<rect x="955" y="301" width="18" height="7" fill="rgba(229,0,0,0.28)"/>
<rect x="936" y="309" width="29" height="8" fill="rgba(68,255,82,0.22)"/>
<rect x="965" y="309" width="27" height="8" fill="rgba(229,0,0,0.28)"/>
<rect x="936" y="318" width="22" height="7" fill="rgba(68,255,82,0.22)"/>
<rect x="958" y="318" width="20" height="7" fill="rgba(229,0,0,0.28)"/>
<rect x="936" y="326" width="26" height="7" fill="rgba(68,255,82,0.22)"/>
<rect x="962" y="326" width="26" height="7" fill="rgba(229,0,0,0.28)"/>
<rect x="936" y="334" width="30" height="7" fill="rgba(68,255,82,0.22)"/>
<rect x="966" y="334" width="35" height="7" fill="rgba(229,0,0,0.28)"/>
<rect x="936" y="342" width="24" height="8" fill="rgba(68,255,82,0.22)"/>
<rect x="960" y="342" width="30" height="8" fill="rgba(229,0,0,0.28)"/>
<rect x="936" y="351" width="34" height="7" fill="rgba(68,255,82,0.22)"/>
<rect x="970" y="351" width="34" height="7" fill="rgba(229,0,0,0.28)"/>
<rect x="936" y="359" width="56" height="7" fill="rgba(68,255,82,0.22)"/>
<rect x="992" y="359" width="53" height="7" fill="rgba(229,0,0,0.28)"/>
<rect x="936" y="367" width="69" height="8" fill="rgba(68,255,82,0.22)"/>
<rect x="1005" y="367" width="65" height="8" fill="rgba(229,0,0,0.28)"/>
<rect x="936" y="376" width="71" height="7" fill="rgba(68,255,82,0.22)"/>
<rect x="1007" y="376" width="79" height="7" fill="rgba(229,0,0,0.28)"/>
<rect x="936" y="384" width="67" height="7" fill="rgba(68,255,82,0.22)"/>
<rect x="1003" y="384" width="66" height="7" fill="rgba(229,0,0,0.28)"/>
<rect x="936" y="392" width="58" height="7" fill="rgba(68,255,82,0.22)"/>
<rect x="994" y="392" width="42" height="7" fill="rgba(229,0,0,0.28)"/>
<rect x="936" y="400" width="39" height="8" fill="rgba(68,255,82,0.22)"/>
<rect x="975" y="400" width="42" height="8" fill="rgba(229,0,0,0.28)"/>
<rect x="936" y="409" width="28" height="7" fill="rgba(68,255,82,0.22)"/>
<rect x="964" y="409" width="30" height="7" fill="rgba(229,0,0,0.28)"/>
<rect x="936" y="417" width="34" height="7" fill="rgba(68,255,82,0.22)"/>
<rect x="970" y="417" width="28" height="7" fill="rgba(229,0,0,0.28)"/>
<rect x="936" y="425" width="27" height="8" fill="rgba(68,255,82,0.22)"/>
<rect x="963" y="425" width="26" height="8" fill="rgba(229,0,0,0.28)"/>
<rect x="936" y="434" width="27" height="7" fill="rgba(68,255,82,0.22)"/>
<rect x="963" y="434" width="25" height="7" fill="rgba(229,0,0,0.28)"/>
<rect x="936" y="442" width="29" height="7" fill="rgba(68,255,82,0.22)"/>
<rect x="965" y="442" width="29" height="7" fill="rgba(229,0,0,0.28)"/>
<rect x="936" y="450" width="38" height="7" fill="rgba(68,255,82,0.22)"/>
<rect x="974" y="450" width="36" height="7" fill="rgba(229,0,0,0.28)"/>
<rect x="936" y="458" width="37" height="8" fill="rgba(68,255,82,0.22)"/>
<rect x="973" y="458" width="37" height="8" fill="rgba(229,0,0,0.28)"/>
<rect x="936" y="467" width="31" height="7" fill="rgba(68,255,82,0.22)"/>
<rect x="967" y="467" width="32" height="7" fill="rgba(229,0,0,0.28)"/>
<rect x="936" y="475" width="44" height="7" fill="rgba(68,255,82,0.22)"/>
<rect x="980" y="475" width="37" height="7" fill="rgba(229,0,0,0.28)"/>
<rect x="936" y="483" width="62" height="7" fill="rgba(68,255,82,0.22)"/>
<rect x="998" y="483" width="51" height="7" fill="rgba(229,0,0,0.28)"/>
<rect x="936" y="491" width="54" height="8" fill="rgba(68,255,82,0.22)"/>
<rect x="990" y="491" width="53" height="8" fill="rgba(229,0,0,0.28)"/>
<rect x="936" y="500" width="39" height="7" fill="rgba(68,255,82,0.22)"/>
<rect x="975" y="500" width="39" height="7" fill="rgba(229,0,0,0.28)"/>
<rect x="936" y="508" width="25" height="7" fill="rgba(68,255,82,0.22)"/>
<rect x="961" y="508" width="20" height="7" fill="rgba(229,0,0,0.28)"/>
<rect x="936" y="516" width="24" height="8" fill="rgba(68,255,82,0.22)"/>
<rect x="960" y="516" width="24" height="8" fill="rgba(229,0,0,0.28)"/>
<rect x="936" y="525" width="18" height="7" fill="rgba(68,255,82,0.22)"/>
<rect x="954" y="525" width="23" height="7" fill="rgba(229,0,0,0.28)"/>
<rect x="936" y="533" width="12" height="7" fill="rgba(68,255,82,0.22)"/>
<rect x="948" y="533" width="13" height="7" fill="rgba(229,0,0,0.28)"/>
<rect x="936" y="541" width="14" height="7" fill="rgba(68,255,82,0.22)"/>
<rect x="950" y="541" width="13" height="7" fill="rgba(229,0,0,0.28)"/>
<rect x="936" y="549" width="5" height="8" fill="rgba(68,255,82,0.22)"/>
<rect x="941" y="549" width="5" height="8" fill="rgba(229,0,0,0.28)"/>
<rect x="936" y="558" width="2" height="7" fill="rgba(68,255,82,0.22)"/>
<rect x="938" y="558" width="3" height="7" fill="rgba(229,0,0,0.28)"/>
</g>
<line x1="1445" y1="380.5" x2="1857" y2="380.5" stroke="#f23645" stroke-width="1" stroke-dasharray="5,6"/>
<g stroke="#f23645" stroke-width="1.1" fill="none" stroke-linecap="round">
<line x1="1445.4" y1="490.3" x2="1458.5" y2="535.0"/>
<line x1="1458.5" y1="535.0" x2="1452.2" y2="531.5"/>
<line x1="1458.5" y1="535.0" x2="1462.0" y2="528.7"/>
<line x1="1470.9" y1="529.4" x2="1510.5" y2="382.0"/>
<line x1="1510.5" y1="382.0" x2="1514.1" y2="388.2"/>
<line x1="1510.5" y1="382.0" x2="1504.3" y2="385.6"/>
<line x1="1522.9" y1="382.9" x2="1555.8" y2="469.3"/>
<line x1="1555.8" y1="469.3" x2="1549.2" y2="466.4"/>
<line x1="1555.8" y1="469.3" x2="1558.7" y2="462.7"/>
<line x1="1568.6" y1="466.0" x2="1594.0" y2="381.7"/>
<line x1="1594.0" y1="381.7" x2="1597.4" y2="388.0"/>
<line x1="1594.0" y1="381.7" x2="1587.7" y2="385.1"/>
<line x1="1607.6" y1="385.4" x2="1646.1" y2="499.8"/>
<line x1="1646.1" y1="499.8" x2="1639.7" y2="496.6"/>
<line x1="1646.1" y1="499.8" x2="1649.3" y2="493.4"/>
<line x1="1659.2" y1="492.7" x2="1711.2" y2="272.5"/>
<line x1="1711.2" y1="272.5" x2="1715.0" y2="278.6"/>
<line x1="1711.2" y1="272.5" x2="1705.1" y2="276.3"/>
<line x1="1717.5" y1="273.6" x2="1756.4" y2="374.2"/>
<line x1="1756.4" y1="374.2" x2="1749.8" y2="371.3"/>
<line x1="1756.4" y1="374.2" x2="1759.3" y2="367.6"/>
<line x1="1776.1" y1="365.2" x2="1822.0" y2="200.9"/>
<line x1="1822.0" y1="200.9" x2="1825.5" y2="207.2"/>
<line x1="1822.0" y1="200.9" x2="1815.7" y2="204.4"/>
</g>
<rect x="848" y="579" width="86" height="79" fill="rgba(250,229,62,0.24)"/>
<g stroke="#f57c00" stroke-width="1" stroke-dasharray="5.6,5.3" fill="none">
<line x1="848.5" y1="579.5" x2="933.5" y2="579.5"/>
<line x1="848.5" y1="579.5" x2="848.5" y2="657.5"/>
<line x1="933.5" y1="579.5" x2="933.5" y2="657.5"/>
<line x1="848.5" y1="657.5" x2="933.5" y2="657.5"/>
</g>
<rect x="1705" y="285" width="98" height="88" fill="rgba(250,229,62,0.24)"/>
<g stroke="#f57c00" stroke-width="1" stroke-dasharray="5.6,5.3" fill="none">
<line x1="1705.5" y1="285.5" x2="1802.5" y2="285.5"/>
<line x1="1705.5" y1="285.5" x2="1705.5" y2="372.5"/>
<line x1="1802.5" y1="285.5" x2="1802.5" y2="372.5"/>
<line x1="1705.5" y1="372.5" x2="1802.5" y2="372.5"/>
</g>
<rect x="1057" y="269" width="824" height="14" fill="rgba(8,153,129,0.25)"/>
<g fill="none" stroke="#9c27b0" stroke-width="1.4">
<path d="M1442.4 800.2 A9.6 9.6 0 1 0 1448.6 806.5"/>
</g>
<path d="M1441.4 804.2 L1435.6 809.2 H1443.2 L1436.4 814.6" fill="none" stroke="#9c27b0" stroke-width="1.4" stroke-linejoin="round"/>
<circle cx="1446.4" cy="802.4" r="2.6" fill="#f23645"/>
</g>
</svg></body></html>
